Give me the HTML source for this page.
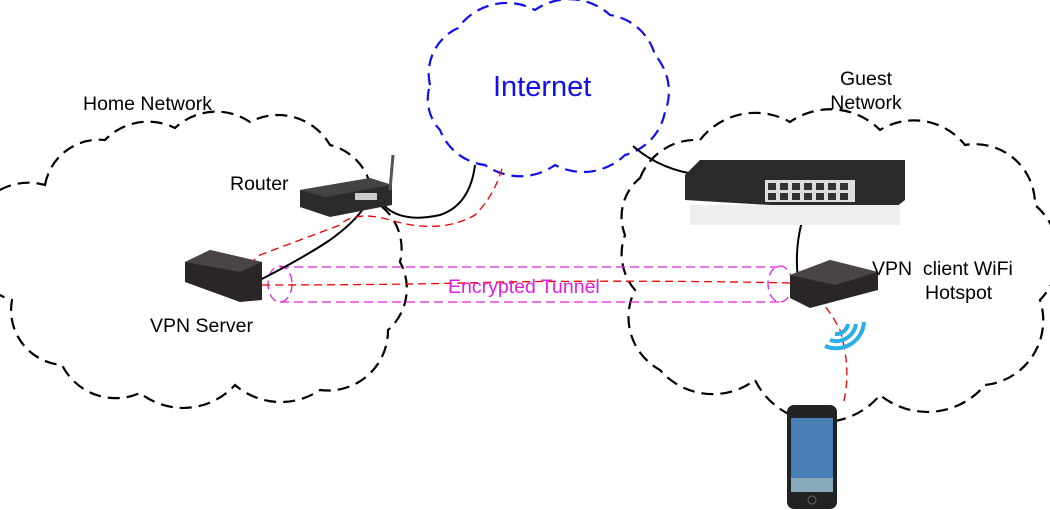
<!DOCTYPE html>
<html><head><meta charset="utf-8"><style>
html,body{margin:0;padding:0;background:#fff;}
svg{display:block;font-family:"Liberation Sans",Arial,sans-serif;}
</style></head><body>
<svg width="1050" height="510" viewBox="0 0 1050 510" xmlns="http://www.w3.org/2000/svg">
<!-- clouds -->
<g fill="none" stroke-width="2.2" stroke-dasharray="12,7">
<path stroke="#000" d="M45,185 A55,55 0 0 1 105,140 A60,60 0 0 1 175,128 A60,60 0 0 1 250,122 A60,60 0 0 1 330,145 A55,55 0 0 1 372,200 A55,55 0 0 1 400,262 A55,55 0 0 1 388,330 A60,60 0 0 1 320,390 A70,70 0 0 1 235,385 A70,70 0 0 1 140,393 A60,60 0 0 1 62,365 A55,55 0 0 1 12,300 A55,55 0 0 1 45,185 Z"/>
<path stroke="#1010ee" d="M430,85 A50,50 0 0 1 458,28 A60,60 0 0 1 535,10 A60,60 0 0 1 610,15 A55,55 0 0 1 655,55 A55,55 0 0 1 665,112 A55,55 0 0 1 625,155 A60,60 0 0 1 555,165 A60,60 0 0 1 485,165 A55,55 0 0 1 440,130 A45,45 0 0 1 430,85 Z"/>
<path stroke="#000" d="M640,178 A60,60 0 0 1 700,140 A70,70 0 0 1 790,122 A70,70 0 0 1 880,130 A65,65 0 0 1 965,145 A60,60 0 0 1 1035,205 A65,65 0 0 1 1040,300 A65,65 0 0 1 985,385 A75,75 0 0 1 880,395 A75,75 0 0 1 755,380 A70,70 0 0 1 660,370 A60,60 0 0 1 635,290 A55,55 0 0 1 625,235 A50,50 0 0 1 640,178 Z"/>
</g>
<!-- tunnel -->
<g fill="none" stroke="#e020e0" stroke-width="1.3" stroke-dasharray="9,5">
<path d="M280,267 L780,267 M280,302 L780,302"/>
<ellipse cx="280" cy="284" rx="12" ry="18"/>
<ellipse cx="780" cy="284" rx="12" ry="18"/>
</g>
<!-- cables -->
<g fill="none" stroke="#000" stroke-width="2">
<path d="M378,198 Q395,225 440,215 Q470,205 475,165"/>
<path d="M250,285 Q300,260 330,240 Q355,222 365,206"/>
<path d="M633,146 Q660,170 700,175 L780,180"/>
<path d="M812,195 Q790,240 800,292"/>
</g>
<g fill="none" stroke="#e00" stroke-width="1.3" stroke-dasharray="8,5">
<path d="M250,290 Q240,270 260,255 Q300,240 340,225 Q355,210 390,220 Q440,235 475,215 Q495,195 503,165"/>
<path d="M262,285 Q400,285 500,282 Q650,280 790,283 Q820,290 840,330 Q852,370 843,405"/>
</g>
<!-- router -->
<polygon points="300,190 370,178 392,185 392,205 330,217 300,207" fill="#2b2b2b"/>
<polygon points="300,190 370,178 392,185 325,197" fill="#444"/>
<rect x="355" y="193" width="22" height="7" fill="#ccc"/>
<line x1="390" y1="190" x2="393" y2="155" stroke="#555" stroke-width="3"/>
<!-- vpn server -->
<polygon points="185,262 210,250 262,262 262,300 240,302 185,282" fill="#2a2627"/>
<polygon points="185,262 210,250 262,262 240,272" fill="#4a4446"/>
<!-- switch -->
<polygon points="685,175 700,160 905,160 905,200 890,212 685,200" fill="#2a2a2c"/>
<rect x="765" y="180" width="90" height="22" fill="#ddd"/>
<g fill="#333"><rect x="768" y="183" width="8" height="7"/><rect x="780" y="183" width="8" height="7"/><rect x="792" y="183" width="8" height="7"/><rect x="804" y="183" width="8" height="7"/><rect x="816" y="183" width="8" height="7"/><rect x="828" y="183" width="8" height="7"/><rect x="840" y="183" width="8" height="7"/>
<rect x="768" y="193" width="8" height="7"/><rect x="780" y="193" width="8" height="7"/><rect x="792" y="193" width="8" height="7"/><rect x="804" y="193" width="8" height="7"/><rect x="816" y="193" width="8" height="7"/><rect x="828" y="193" width="8" height="7"/><rect x="840" y="193" width="8" height="7"/></g>
<rect x="690" y="205" width="210" height="20" fill="#eee"/>
<!-- vpn client -->
<polygon points="790,275 830,260 878,272 878,290 810,308 790,298" fill="#2a2627"/>
<polygon points="790,275 830,260 878,272 835,285" fill="#4a4446"/>
<!-- wifi -->
<g fill="none" stroke="#29aee8" stroke-width="4">
<path d="M835,334 A12,12 0 0 0 848,324"/>
<path d="M830,340 A20,20 0 0 0 856,324"/>
<path d="M825,346 A28,28 0 0 0 864,322"/>
</g>
<!-- phone -->
<rect x="787" y="405" width="50" height="104" rx="7" fill="#222"/>
<rect x="791" y="418" width="42" height="74" fill="#4a7fb5"/>
<rect x="791" y="478" width="42" height="14" fill="#8ab"/>
<circle cx="812" cy="500" r="4" fill="none" stroke="#666"/>
<!-- labels -->
<text x="493" y="96" font-size="29" fill="#1010ee">Internet</text>
<text x="83" y="110" font-size="19.5" fill="#000">Home Network</text>
<text x="230" y="190" font-size="19.5" fill="#000">Router</text>
<text x="150" y="332" font-size="19.5" fill="#000">VPN Server</text>
<text x="866" y="85" font-size="19.5" fill="#000" text-anchor="middle">Guest</text>
<text x="866" y="109" font-size="19.5" fill="#000" text-anchor="middle">Network</text>
<text x="872" y="275" font-size="19.5" fill="#000" xml:space="preserve">VPN  client WiFi</text>
<text x="925" y="299" font-size="19.5" fill="#000">Hotspot</text>
<text x="448" y="293" font-size="19.5" fill="#e020e0">Encrypted Tunnel</text>
</svg>
</body></html>
